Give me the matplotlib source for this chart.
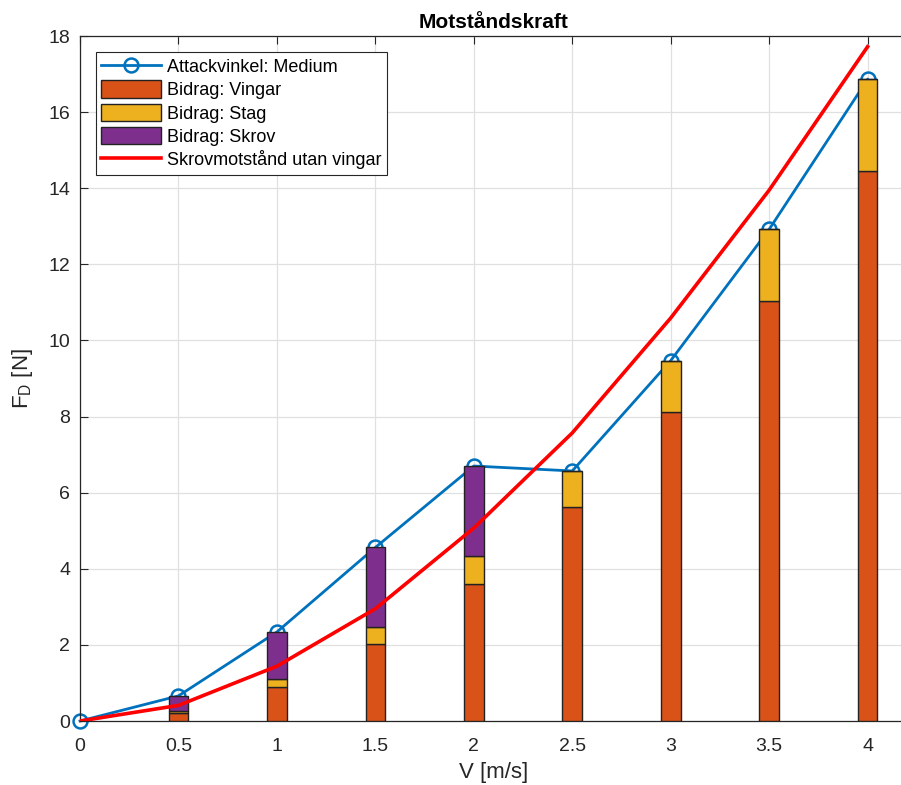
import numpy as np
import matplotlib.pyplot as plt

plt.rcParams['font.family'] = ['Liberation Sans', 'DejaVu Sans']
plt.rcParams['mathtext.default'] = 'regular'

# hastigheter [m/s]
v = [0, 0.5, 1, 1.5, 2, 2.5, 3, 3.5, 4]
v_bar = [0.5, 1, 1.5, 2, 2.5, 3, 3.5, 4]

# bidrag till motståndet [N]
vingar = [0.20, 0.89, 2.02, 3.59, 5.62, 8.13, 11.04, 14.44]
stag = [0.05, 0.21, 0.44, 0.75, 0.95, 1.34, 1.88, 2.42]
skrov = [0.41, 1.24, 2.10, 2.36, 0.0, 0.0, 0.0, 0.0]

# skrovmotstånd utan vingar [N]
skrov_utan = [0, 0.41, 1.44, 2.95, 5.07, 7.57, 10.59, 13.95, 17.72]

vingar = np.array(vingar)
stag = np.array(stag)
skrov = np.array(skrov)
total = np.concatenate([[0], vingar + stag + skrov])

c_blue = (0, 0.447, 0.741)
c_orange = (0.85, 0.325, 0.098)
c_yellow = (0.929, 0.694, 0.125)
c_purple = (0.494, 0.184, 0.556)
c_axis = '#262626'

fig = plt.figure(figsize=(9.01, 7.85), dpi=100)
ax = fig.add_axes([80 / 901, 1 - 721 / 785, 827 / 901, 685 / 785])

h_att, = ax.plot(v, total, '-o', color=c_blue, lw=2, ms=10, mfc='none', mew=1.8,
                 label='Attackvinkel: Medium', zorder=2, clip_on=False)

w = 0.1
h_v = ax.bar(v_bar, vingar, w, color=c_orange, edgecolor='#222222', lw=1,
             label='Bidrag: Vingar', zorder=3)
h_s = ax.bar(v_bar, stag, w, bottom=vingar, color=c_yellow, edgecolor='#222222', lw=1,
             label='Bidrag: Stag', zorder=3)
h_k = ax.bar(v_bar, skrov, w, bottom=vingar + stag, color=c_purple, edgecolor='#222222',
             lw=1, label='Bidrag: Skrov', zorder=3)

h_red, = ax.plot(v, skrov_utan, '-', color='red', lw=2.6,
                 label='Skrovmotstånd utan vingar', zorder=4)

ax.set_xlim(0, 4.2)
ax.set_ylim(0, 18)
ax.set_xticks(v)
ax.set_xticklabels(['0', '0.5', '1', '1.5', '2', '2.5', '3', '3.5', '4'])
ax.set_yticks(np.arange(0, 19, 2))
ax.grid(True, color='#e0e0e0', lw=0.9, zorder=0)
ax.set_axisbelow(True)
ax.tick_params(direction='in', length=6, width=0.8, colors=c_axis,
               labelsize=14, top=True, right=False)
ax.tick_params(axis='x', pad=12)
ax.tick_params(axis='y', pad=7)
for s in ['left', 'bottom', 'top']:
    ax.spines[s].set_color(c_axis)
    ax.spines[s].set_linewidth(0.9)
ax.spines['right'].set_visible(False)

ax.set_title('Motståndskraft', fontsize=15, fontweight='bold', pad=6)
ax.set_xlabel('V [m/s]', fontsize=16, color=c_axis, labelpad=5)
ax.set_ylabel('F$_D$ [N]', fontsize=16, color=c_axis, labelpad=10)

leg = ax.legend([h_att, h_v, h_s, h_k, h_red],
                ['Attackvinkel: Medium', 'Bidrag: Vingar', 'Bidrag: Stag',
                 'Bidrag: Skrov', 'Skrovmotstånd utan vingar'],
                loc='upper left', bbox_to_anchor=(0.019, 0.977), fontsize=13,
                handlelength=3.3, handleheight=1.1, labelspacing=0.25,
                borderpad=0.3, handletextpad=0.35, borderaxespad=0,
                fancybox=False, edgecolor=c_axis, framealpha=1)
leg.get_frame().set_linewidth(0.8)

fig.savefig('out.png', dpi=100)
